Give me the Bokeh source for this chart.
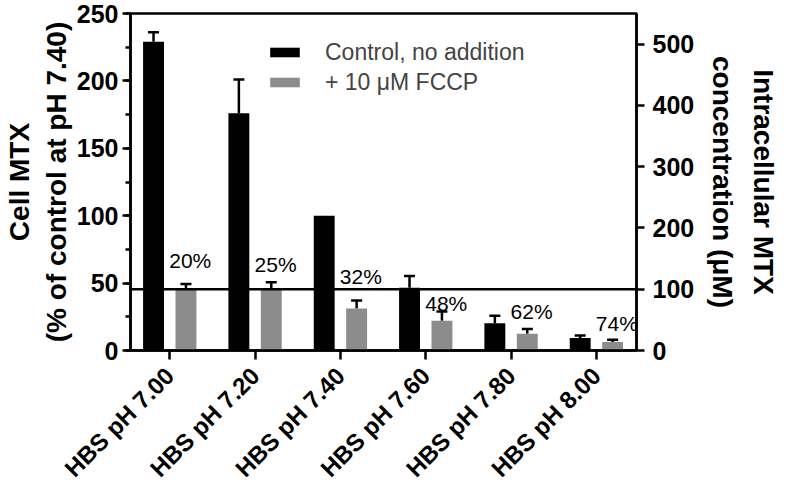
import math
from bokeh.plotting import figure
from bokeh.models import (Range1d, LinearAxis, FixedTicker, SingleIntervalTicker, Whisker,
                          ColumnDataSource, Legend, LegendItem, Span, TeeHead)
from bokeh.core.properties import value
from bokeh.embed import file_html
from bokeh.resources import INLINE

# ---- data ----
categories = ["HBS pH 7.00", "HBS pH 7.20", "HBS pH 7.40", "HBS pH 7.60", "HBS pH 7.80", "HBS pH 8.00"]
control = [229, 176, 100, 46.5, 20.3, 9.2]
control_err = [7, 25, 0, 8.7, 5.4, 2.0]
fccp = [45, 45, 31.2, 22, 12.4, 6.3]
fccp_err = [4.4, 5.6, 5.8, 7, 3.6, 1.7]
pct_labels = ["20%", "25%", "32%", "48%", "62%", "74%"]
pct_label_y = [66.9, 64, 54.7, 34.9, 29, 20.3]
left_ticks_interval = 50
right_ticks_interval = 100
threshold_uM = 100          # horizontal reference line, right axis units
right_to_left_ratio = 2.2   # right axis units per left axis unit
series_names = ["Control, no addition", "+ 10 \u03bcM FCCP"]

FONT = "Liberation Sans"
BLACK = "#000000"
GREY = "#8c8c8c"
OFF = 0.19
W = 0.245

idx = list(range(len(categories)))

p = figure(width=781, height=494, output_backend="svg", toolbar_location=None,
           x_range=Range1d(-0.46, 5.47), y_range=Range1d(0, 250),
           min_border_left=122, min_border_right=140, min_border_top=13, min_border_bottom=130)
p.extra_y_ranges = {"right": Range1d(0, 250 * right_to_left_ratio)}
p.xgrid.visible = False
p.ygrid.visible = False
p.outline_line_color = "black"
p.outline_line_width = 2.5
p.outline_line_alpha = 1.0
p.background_fill_color = "white"
p.border_fill_color = "white"

src_c = ColumnDataSource(dict(x=[i - OFF for i in idx], top=control,
                              hi=[v + e for v, e in zip(control, control_err)], lo=control))
src_f = ColumnDataSource(dict(x=[i + OFF for i in idx], top=fccp,
                              hi=[v + e for v, e in zip(fccp, fccp_err)], lo=fccp))

r1 = p.vbar(x="x", top="top", width=W, source=src_c, fill_color=BLACK, line_color=None)
r2 = p.vbar(x="x", top="top", width=W, source=src_f, fill_color=GREY, line_color=None)

# error bars (upper only), skip zero errors
for src, errs in ((src_c, control_err), (src_f, fccp_err)):
    d = src.data
    keep = [k for k, e in enumerate(errs) if e > 0]
    es = ColumnDataSource(dict(x=[d["x"][k] for k in keep], lo=[d["lo"][k] for k in keep],
                               hi=[d["hi"][k] for k in keep]))
    wk = Whisker(base="x", lower="lo", upper="hi", source=es, line_color="black", line_width=2.5,
                 upper_head=TeeHead(size=11, line_width=2.5, line_color="black"), lower_head=None)
    p.add_layout(wk)

# reference line at 100 µM
p.add_layout(Span(location=threshold_uM, dimension="width", y_range_name="right",
                  line_color="black", line_width=2.5))

# percentage labels
p.text(x=[i + OFF + 0.05 for i in idx], y=pct_label_y, text=pct_labels,
       text_font=value(FONT), text_font_size="21px", text_align="center", text_baseline="middle",
       text_color="black")

# axes
xa = p.xaxis[0]
xa.ticker = FixedTicker(ticks=idx)
xa.major_label_overrides = {i: c for i, c in zip(idx, categories)}
xa.major_label_orientation = math.pi / 4
xa.major_label_text_font = FONT
xa.major_label_text_font_style = "bold"
xa.major_label_text_font_size = "24px"
xa.major_label_text_line_height = 0.5
xa.major_label_text_color = "black"
xa.major_tick_out = 9
xa.major_tick_in = 0
xa.minor_tick_line_color = None
xa.axis_line_width = 2.5
xa.major_tick_line_width = 2.5
xa.major_label_standoff = 12

ya = p.yaxis[0]
ya.ticker = SingleIntervalTicker(interval=left_ticks_interval, num_minor_ticks=2)
ya.axis_label = "Cell MTX\n(% of control at pH 7.40)"

yr = LinearAxis(y_range_name="right",
                ticker=SingleIntervalTicker(interval=right_ticks_interval, num_minor_ticks=0),
                axis_label="Intracellular MTX\nconcentration (\u03bcM)")
p.add_layout(yr, "right")

for ax in (ya, yr):
    ax.major_label_text_font = FONT
    ax.major_label_text_font_style = "bold"
    ax.major_label_text_font_size = "25px"
    ax.major_label_text_line_height = 1.0
    ax.major_label_text_color = "black"
    ax.axis_label_text_font = FONT
    ax.axis_label_text_font_style = "bold"
    ax.axis_label_text_font_size = "28px"
    ax.axis_label_text_color = "black"
    ax.axis_line_width = 2.5
    ax.major_tick_line_width = 2.5
    ax.minor_tick_line_width = 2.5
    ax.major_tick_out = 8
    ax.major_tick_in = 0
    ax.minor_tick_out = 5
    ax.minor_tick_in = 0

ya.major_label_standoff = 4
ya.axis_label_standoff = 2
yr.major_label_standoff = 8
yr.axis_label_standoff = 10
yr.axis_label_text_line_height = 1.3
yr.minor_tick_line_color = None

legend = Legend(items=[LegendItem(label=series_names[0], renderers=[r1]),
                       LegendItem(label=series_names[1], renderers=[r2])],
                location=(136, 253), glyph_width=37, glyph_height=12, label_standoff=22,
                label_text_font=FONT, label_text_font_size="23px", label_height=30,
                border_line_color=None, background_fill_alpha=0, padding=0, margin=0, spacing=0)
p.add_layout(legend)

open("out.html", "w").write(file_html(p, INLINE))
